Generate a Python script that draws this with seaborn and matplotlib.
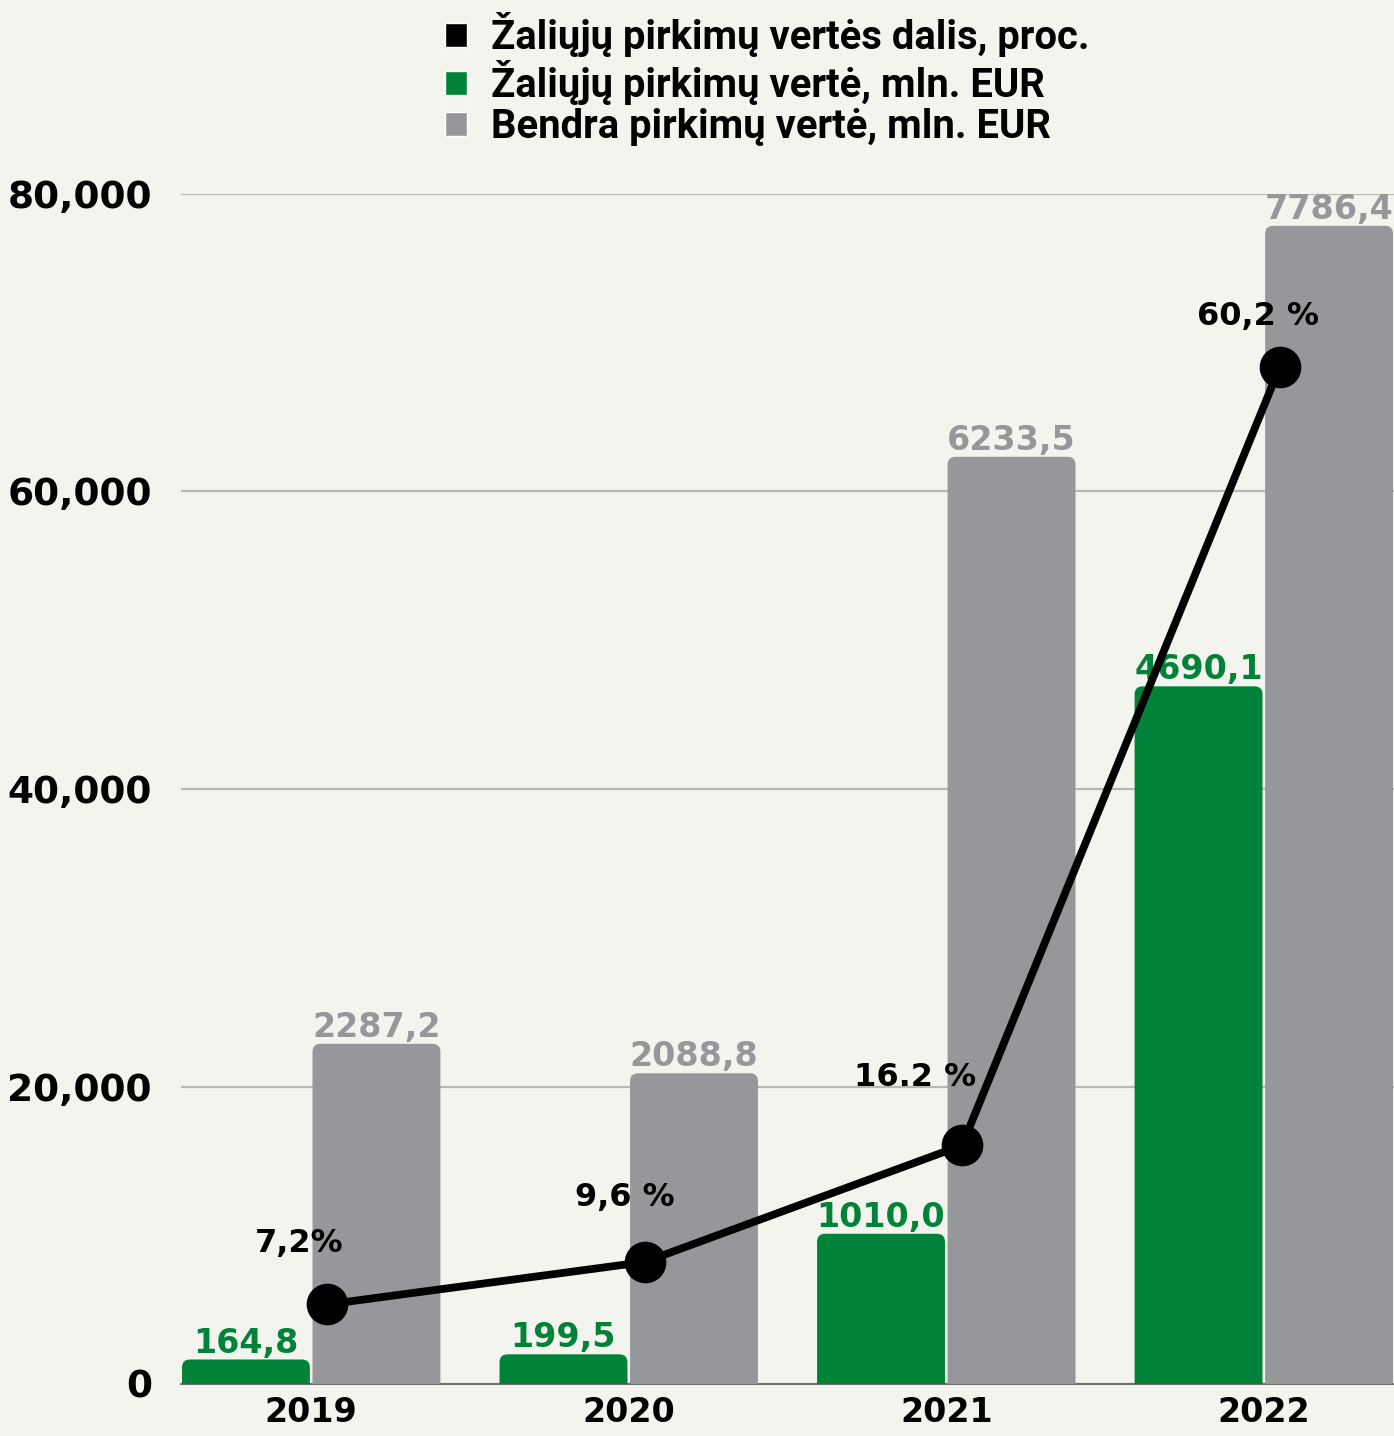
import numpy as np
import pandas as pd
import matplotlib
matplotlib.use("Agg")
import matplotlib.pyplot as plt
from matplotlib.patches import FancyBboxPatch, Patch
import seaborn as sns

# -------------------------------
# Data (mln. EUR and % share)
# -------------------------------
years = ["2019", "2020", "2021", "2022"]
green_value = [164.8, 199.5, 1010.0, 4690.1]
total_value = [2287.2, 2088.8, 6233.5, 7786.4]
green_labels = ["164,8", "199,5", "1010,0", "4690,1"]
total_labels = ["2287,2", "2088,8", "6233,5", "7786,4"]
share_pct = [7.2, 9.6, 16.2, 60.2]
share_labels = ["7,2%", "9,6 %", "16.2 %", "60,2 %"]
y_ticks = [0, 20000, 40000, 60000, 80000]

# the source chart draws bars at 10x on its left axis
BAR_SCALE = 10

series_green = "Žaliųjų pirkimų vertė, mln. EUR"
series_total = "Bendra pirkimų vertė, mln. EUR"
series_share = "Žaliųjų pirkimų vertės dalis, proc."

GREEN = "#008238"
GREY = "#96979b"
BG = "#f4f4ef"

df = pd.DataFrame({
    "year": years * 2,
    "series": [series_green] * len(years) + [series_total] * len(years),
    "value": green_value + total_value,
})
df["height"] = df["value"] * BAR_SCALE

# -------------------------------
# Plot
# -------------------------------
sns.set_theme(style="white")
plt.rcParams["font.family"] = ["DejaVu Sans"]
plt.rcParams["font.weight"] = "bold"
plt.rcParams["text.color"] = "black"

W, H = 1394, 1436
fig = plt.figure(figsize=(W / 100, H / 100), dpi=100, facecolor=BG)
ax = fig.add_axes([181 / W, 52 / H, 1 - 181 / W, 1190 / H])
ax.set_facecolor(BG)

sns.barplot(
    data=df, x="year", y="height", hue="series", order=years,
    hue_order=[series_green, series_total], palette=[GREEN, GREY],
    width=0.822, gap=0.02, saturation=1, legend=False, ax=ax,
)

ax.set_xlim(-0.41, 3.41)
ax.set_ylim(0, 80000)

# pixel sizes of one data unit, used for the rounded bar tops
px_x = (W - 181) / 3.82
px_y = 1190 / 80000
radius = 8 / px_x
aspect = px_x / px_y

for container, labels, color in zip(ax.containers, [green_labels, total_labels], [GREEN, GREY]):
    for bar, lab in zip(container, labels):
        x, w, h = bar.get_x(), bar.get_width(), bar.get_height()
        bar.remove()
        ax.add_patch(FancyBboxPatch(
            (x, -700), w, h + 700,
            boxstyle=f"round,pad=0,rounding_size={radius}",
            mutation_aspect=aspect, fc=color, ec="none", zorder=2,
        ))
        ax.annotate(lab, (x + w / 2, h), xytext=(0, 5), textcoords="offset points",
                    ha="center", va="baseline", color=color, fontsize=24,
                    fontweight="bold", zorder=3, annotation_clip=False)

ax.axhline(0, color="#707070", lw=1.5, zorder=1.5, clip_on=False)
ax.yaxis.grid(True, color="#b8b8b0", lw=1.6)
ax.set_axisbelow(True)
for s in ax.spines.values():
    s.set_visible(False)

ax.set_yticks(y_ticks, [f"{v:,}" for v in y_ticks])
ax.set_xticks(range(len(years)), years)
ax.tick_params(axis="y", length=0, pad=21, labelsize=27, colors="black")
ax.tick_params(axis="x", length=0, pad=9, labelsize=24, colors="black")
ax.set_xlabel("")
ax.set_ylabel("")

# share line on its own (hidden) axis
ax2 = ax.twinx()
line_x = np.arange(len(years)) + 0.05
sns.lineplot(x=line_x, y=share_pct, ax=ax2, color="black",
             lw=5.6, marker="o", markersize=30, markeredgewidth=0)
ax2.set_ylim(2.7, 70.0)
ax2.set_xlim(-0.41, 3.41)
ax2.set_yticks([])
ax2.set_ylabel("")
for s in ax2.spines.values():
    s.set_visible(False)

# label placement relative to each point, in pixels (dx, dy up)
label_offsets = [(-28, 52), (-20, 56), (-47, 59), (-22, 42)]
for xi, yi, lab, (dx, dy) in zip(line_x, share_pct, share_labels, label_offsets):
    ax2.annotate(lab, (xi, yi), xytext=(dx * 0.72, dy * 0.72), textcoords="offset points",
                 ha="center", va="baseline", fontsize=23, fontweight="bold",
                 color="black", annotation_clip=False)

handles = [Patch(fc="black"), Patch(fc=GREEN), Patch(fc=GREY)]
fig.legend(
    handles, [series_share, series_green, series_total],
    loc="upper left", bbox_to_anchor=(445 / W, 1 - 12 / H), frameon=False,
    prop={"family": ["Roboto", "DejaVu Sans"], "weight": "bold", "size": 28.8},
    labelcolor="black",
    handlelength=0.56, handleheight=0.56, handletextpad=0.6,
    labelspacing=0.08, borderaxespad=0, borderpad=0,
)

fig.savefig("out.png", dpi=100, facecolor=BG)
